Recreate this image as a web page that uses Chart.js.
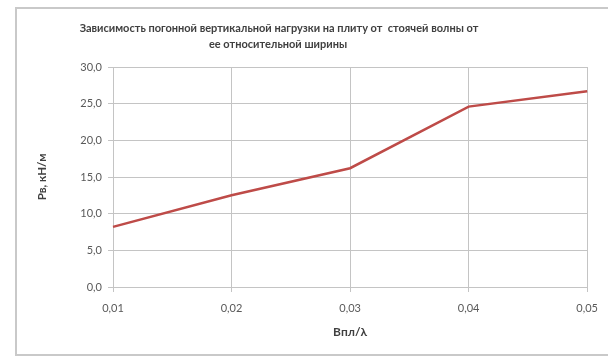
<!DOCTYPE html>
<html>
<head>
<meta charset="utf-8">
<script src="https://cdn.jsdelivr.net/npm/chart.js@4/dist/chart.umd.min.js"></script>
<style>
  html, body { margin: 0; padding: 0; background: #ffffff; }
  #wrap { position: relative; width: 608px; height: 356px; overflow: hidden; }
  #frame { position: absolute; left: 15px; top: 7px; width: 640px; height: 345px;
           border: 2px solid #c9c9c9; box-sizing: content-box; }
  canvas { position: absolute; left: 0; top: 0; }
</style>
</head>
<body>
<div id="wrap">
  <div id="frame"></div>
  <canvas id="c" width="608" height="356"></canvas>
</div>
<script>
// Relative width of the standing wave and the resulting line load
const widthRatios = ['0,01', '0,02', '0,03', '0,04', '0,05'];
const loadValues = [8.2, 12.5, 16.2, 24.6, 26.7];
const titleLines = [
  'Зависимость погонной вертикальной нагрузки на плиту от  стоячей волны от',
  'ее относительной ширины'
];
const xTitle = 'Bпл/λ';
const yTitle = 'Pв, кН/м';

const FONT = 'Lato, "Open Sans", sans-serif';
const gridColor = '#c4c4c4';
const tickColor = '#595959';

// Chart heading drawn above the plot area
const headingPlugin = {
  id: 'heading',
  afterDraw(chart) {
    const ctx = chart.ctx;
    ctx.save();
    ctx.fillStyle = '#404040';
    ctx.font = 'bold 11px ' + FONT;
    ctx.textAlign = 'center';
    ctx.textBaseline = 'middle';
    ctx.fillText(titleLines[0], 279, 28);
    ctx.fillText(titleLines[1], 278, 44);
    ctx.restore();
  }
};

new Chart(document.getElementById('c'), {
  type: 'line',
  data: {
    labels: widthRatios,
    datasets: [{
      data: loadValues,
      borderColor: '#be4b48',
      borderWidth: 2.5,
      pointRadius: 0,
      tension: 0,
      fill: false
    }]
  },
  options: {
    responsive: false,
    animation: false,
    devicePixelRatio: 1,
    layout: { padding: { left: 30, top: 67, right: 5, bottom: 17 } },
    plugins: {
      legend: { display: false },
      tooltip: { enabled: false }
    },
    scales: {
      x: {
        type: 'category',
        offset: false,
        grid: { color: gridColor, lineWidth: 1, tickLength: 5, drawTicks: true },
        border: { color: gridColor },
        ticks: { color: tickColor, font: { family: FONT, size: 11 }, padding: 10, maxRotation: 0 },
        title: { display: true, text: xTitle, color: '#404040',
                 font: { family: FONT, size: 12, weight: 'bold' }, padding: { top: 0, bottom: 0 } },
        afterFit(scale) { scale.height = 356 - 17 - 287; }
      },
      y: {
        min: 0, max: 30,
        grid: { color: gridColor, lineWidth: 1, tickLength: 5, drawTicks: true },
        border: { color: gridColor },
        ticks: {
          stepSize: 5, color: tickColor, padding: 6,
          font: { family: FONT, size: 11 },
          callback: v => v.toFixed(1).replace('.', ',')
        },
        title: { display: true, text: yTitle, color: '#404040',
                 font: { family: FONT, size: 11.5, weight: 'bold' }, padding: { top: 5, bottom: 0 } },
        afterFit(scale) { scale.width = 113 - 30; }
      }
    }
  },
  plugins: [headingPlugin]
});
</script>
</body>
</html>
